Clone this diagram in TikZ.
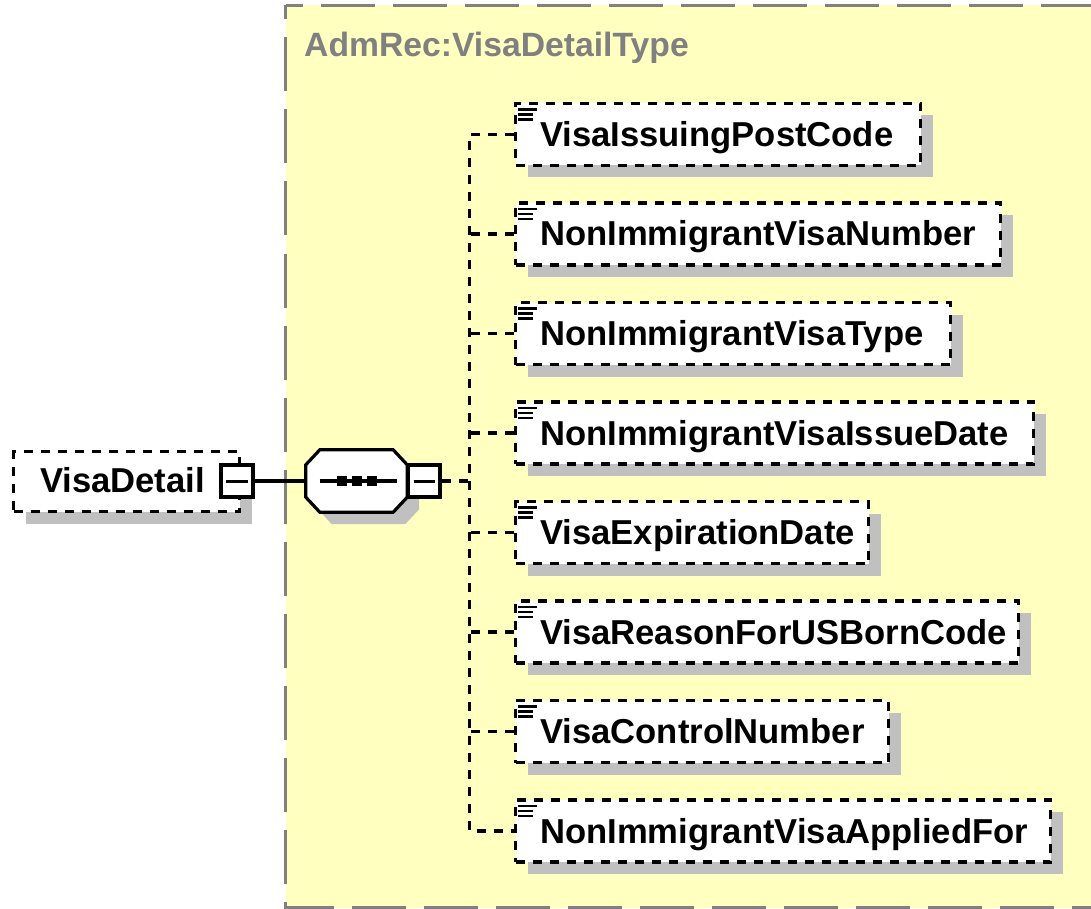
\documentclass[tikz,border=0pt]{standalone}
\usepackage{fontspec}
\setmainfont{Liberation Sans}
\usetikzlibrary{shadows}
\definecolor{typefill}{RGB}{255,255,192}
\definecolor{typeborder}{RGB}{128,128,128}
\definecolor{shgray}{RGB}{192,192,192}
\begin{document}
\begin{tikzpicture}[x=1pt,y=-1pt,
  typebox/.style={fill=typefill, draw=typeborder, line width=3pt, dash pattern=on 54pt off 18pt, dash phase=40pt},
  elbox/.style={draw=black, fill=white, line width=3.2pt, dash pattern=on 9pt off 8pt, minimum height=62pt, inner sep=0pt, anchor=west,
     general shadow={fill=shgray, shadow xshift=12pt, shadow yshift=-12pt}},
  minusbox/.style={draw=black, fill=white, line width=3.2pt, minimum size=32pt, inner sep=0pt},
  minusbar/.style={line width=3pt},
  solidconn/.style={line width=3.2pt},
  dashconn/.style={line width=3.2pt, dash pattern=on 9pt off 8pt},
  lbl/.style={anchor=base west, inner sep=0pt, font=\fontsize{34.6}{40}\selectfont\bfseries},
  titlelbl/.style={anchor=base west, inner sep=0pt, text=typeborder, font=\fontsize{33.7}{40}\selectfont\bfseries},
  iconline/.style={line width=2.4pt},
  seqframe/.style={minimum width=101pt, minimum height=62pt, inner sep=0pt}
]
\useasboundingbox (0,0) rectangle (1091,909);

% complex type region
\draw[typebox] (285.5,5.5) rectangle (1100,907.5);
\node[titlelbl] (title) at (304,57) {AdmRec:VisaDetailType};

% VisaDetail element
\node[elbox, minimum width=226pt, minimum height=60pt] (vd) at (12,481.5) {};
\node[lbl] (vdl) at ([xshift=28pt,yshift=-11pt]vd.west) {VisaDetail};
\node[minusbox] (m0) at (237,481) {};
\draw[minusbar] ([xshift=-11pt]m0.center) -- ([xshift=11pt]m0.center);

% sequence compositor
\node[seqframe] (seq) at (356.5,481) {};
\fill[shgray] ([shift={(26pt,-12pt)}]seq.north west) -- ([shift={(-2pt,-12pt)}]seq.north east)
  -- ([shift={(12pt,-27pt)}]seq.north east) -- ([shift={(12pt,3pt)}]seq.south east)
  -- ([shift={(-2pt,-12pt)}]seq.south east) -- ([shift={(26pt,-12pt)}]seq.south west)
  -- ([shift={(12pt,3pt)}]seq.south west) -- ([shift={(12pt,-27pt)}]seq.north west) -- cycle;
\draw[line width=3.2pt, fill=white] ([xshift=14pt]seq.north west) -- ([xshift=-14pt]seq.north east)
  -- ([yshift=-15pt]seq.north east) -- ([yshift=15pt]seq.south east)
  -- ([xshift=-14pt]seq.south east) -- ([xshift=14pt]seq.south west)
  -- ([yshift=15pt]seq.south west) -- ([yshift=-15pt]seq.north west) -- cycle;
\draw[line width=3.2pt] ([xshift=-37pt]seq.center) -- ([xshift=40pt]seq.center);
\foreach \dx in {-14.5,0.5,15.5} {
  \fill ([shift={(\dx pt-5pt,-5pt)}]seq.center) rectangle ([shift={(\dx pt+5pt,5pt)}]seq.center);
}
\node[minusbox] (m1) at (424,481) {};
\draw[minusbar] ([xshift=-10.5pt]m1.center) -- ([xshift=10.5pt]m1.center);
\draw[solidconn] (m0.east) -- (seq.west);

% child elements
\coordinate (trunk) at (469.5,481);
\foreach \i/\c/\w/\t in {
  1/134.5/405/VisaIssuingPostCode,
  2/234/485/NonImmigrantVisaNumber,
  3/333.5/435/NonImmigrantVisaType,
  4/433/518/NonImmigrantVisaIssueDate,
  5/532.5/353/VisaExpirationDate,
  6/632/503/VisaReasonForUSBornCode,
  7/731.5/373/VisaControlNumber,
  8/831/535/NonImmigrantVisaAppliedFor} {
  \node[elbox, minimum width=\w pt] (b\i) at (514,\c) {};
  \node[lbl] (t\i) at ([xshift=26pt,yshift=-12pt]b\i.west) {\t};
  \draw[iconline] ([shift={(4pt,-7.5pt)}]b\i.north west) -- ++(19,0);
  \draw[iconline] ([shift={(4pt,-12.5pt)}]b\i.north west) -- ++(15,0);
  \draw[iconline] ([shift={(4pt,-17.5pt)}]b\i.north west) -- ++(15,0);
}
\draw[dashconn] (m1.east) -- (trunk);
\draw[dashconn] (b1.west) -| (trunk) |- (b8.west);
\foreach \i in {2,...,7} {
  \draw[dashconn] (b\i.west) -- (b\i.west -| trunk);
}
\end{tikzpicture}
\end{document}
